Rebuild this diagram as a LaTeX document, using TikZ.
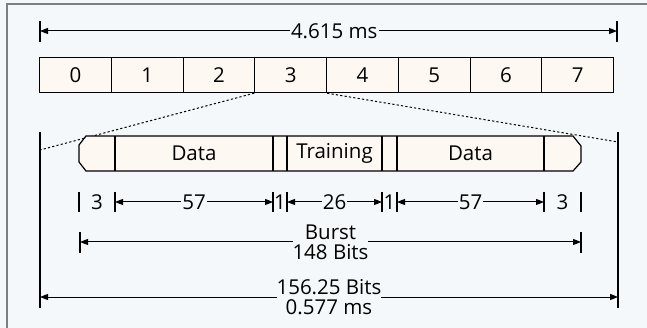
\documentclass[tikz,border=0pt]{standalone}
\usepackage{fontspec}
\setmainfont{Open Sans}
\usetikzlibrary{arrows.meta}
\definecolor{bgc}{HTML}{F5F8FA}
\definecolor{boxfill}{HTML}{FDF8F2}
\definecolor{framegray}{HTML}{7F7F7F}
\begin{document}
\begin{tikzpicture}[x=1pt,y=-1pt,
  font=\fontsize{20.5}{20}\selectfont,
  slotbox/.style={draw, line width=1.2pt, fill=boxfill, minimum width=71.75pt, minimum height=35pt, anchor=north west, inner sep=0pt},
  dimline/.style={line width=1pt, {Triangle[length=8pt,width=6pt]}-{Triangle[length=8pt,width=6pt]}},
  tickline/.style={line width=1.1pt},
  dotline/.style={line width=1pt, dash pattern=on 2.2pt off 2.2pt},
  lbl/.style={fill=bgc, inner sep=1pt, align=center},
  txt/.style={inner sep=0pt}]
\fill[bgc] (0,0) rectangle (647,328);
\useasboundingbox (0,0) rectangle (647,328);
\draw[framegray, line width=1.5pt] (647,4) -- (7,4) -- (7,328);
% top dimension
\coordinate (tA) at (40,31); \coordinate (tB) at (617,31);
\draw[tickline] (40,21) -- (40,42);
\draw[tickline] (617,21) -- (617,42);
\draw[dimline] (tA) -- (tB) node[lbl, pos=0.51] (tl) {4.615 ms};
% slots
\foreach \i in {0,...,7} {
  \node[slotbox] (s\i) at ({39+71.75*\i},57) {\i};
}
% big verticals
\coordinate (L1) at (40,132); \coordinate (L2) at (40,308);
\coordinate (R1) at (618,132); \coordinate (R2) at (618,308);
\draw[line width=1.2pt] (L1) -- (L2);
\draw[line width=1.2pt] (R1) -- (R2);
\coordinate (dl) at (40,150); \coordinate (dr) at (618,142);
\draw[dotline] (s3.south west) -- (dl);
\draw[dotline] (s3.south east) -- (dr);
% burst
\draw[line width=1.2pt, fill=boxfill] (86,136) -- (573,136) -- (581,146) -- (581,162) -- (573,171) -- (86,171) -- (79,162) -- (79,145) -- cycle;
\foreach \x in {115,273,287,382,397,544} {
  \draw[line width=1.2pt] (\x,136) -- (\x,171);
}
\node[txt] (d1) at (194,153.5) {Data};
\node[txt] (tr) at (334.5,153.5) {Training};
\node[txt] (d2) at (470.5,153.5) {Data};
% bit dimension row
\foreach \x/\n in {79/a,115/b,273/c,287/d,382/e,397/f,544/g,581/h} {
  \coordinate (b\n) at (\x,202);
  \draw[tickline] (\x,192) -- (\x,212);
}
\node[txt] (n3a) at (97,202) {3};
\draw[dimline] (bb) -- (bc) node[lbl, midway] (n57a) {57};
\node[txt] (n1a) at (280,202) {1};
\draw[dimline] (bd) -- (be) node[lbl, midway] (n26) {26};
\node[txt] (n1b) at (389.5,202) {1};
\draw[dimline] (bf) -- (bg) node[lbl, midway] (n57b) {57};
\node[txt] (n3b) at (562.5,202) {3};
% burst total
\coordinate (uA) at (80,242); \coordinate (uB) at (581,242);
\draw[tickline] (80,232) -- (80,253);
\draw[tickline] (581,232) -- (581,253);
\draw[dimline] (uA) -- (uB) node[lbl, pos=0.5, inner sep=0pt] (bl) {Burst\\148 Bits};
% slot total
\coordinate (vA) at (40,297); \coordinate (vB) at (618,297);
\draw[dimline] (vA) -- (vB) node[lbl, pos=0.5, inner sep=0pt] (vl) {156.25 Bits\\0.577 ms};
\end{tikzpicture}
\end{document}
